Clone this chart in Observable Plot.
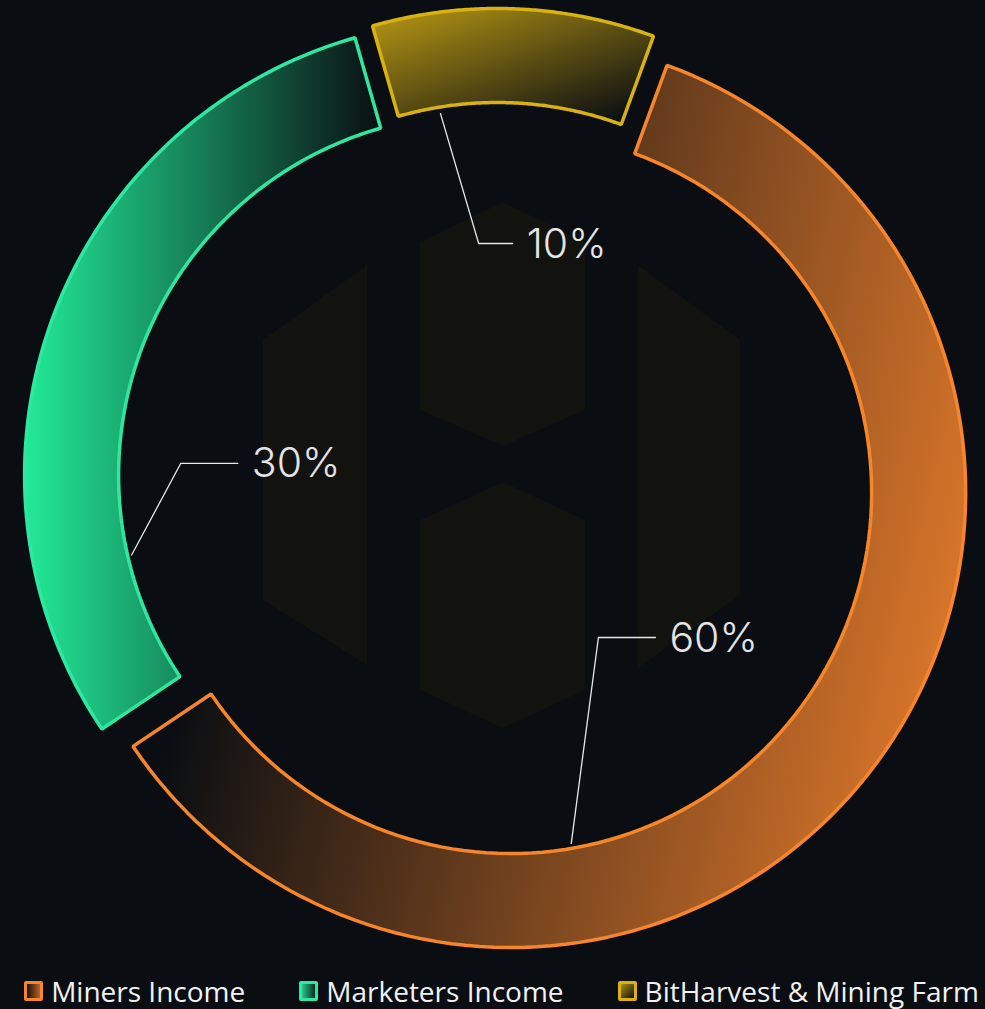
<!DOCTYPE html>
<html>
<head>
<meta charset="utf-8">
<script src="https://cdn.jsdelivr.net/npm/d3@7"></script>
<script src="https://cdn.jsdelivr.net/npm/@observablehq/plot@0.6"></script>
<style>
  html, body { margin: 0; padding: 0; background: #0a0e12; overflow: hidden; }
  #wrap { position: relative; width: 985px; }
  #wm { position: absolute; left: 0; top: 0; width: 985px; height: 970px; }
  #chart { position: relative; }
  #chart svg { display: block; }
  #legend {
    display: flex; justify-content: center; align-items: center; gap: 54px;
    height: 39px; padding-top: 2px; box-sizing: border-box;
    font-family: "Open Sans", sans-serif; font-size: 28px; color: #f2f2f2;
    transform: translateX(9px);
  }
  .item { display: flex; align-items: center; gap: 8px; white-space: nowrap; }
  .sw { width: 13px; height: 14px; border: 3px solid; border-radius: 2px; }
</style>
</head>
<body>
<div id="wrap">
  <svg id="wm" width="985" height="970">
    <g fill="#12120f">
      <polygon points="503,202 585,242 585,410 503,446 420,410 420,242"/>
      <polygon points="503,482 585,520 585,690 503,728 420,690 420,520"/>
      <polygon points="367,265 367,665 263,600 263,340"/>
      <polygon points="638,265 740,340 740,595 638,668"/>
    </g>
  </svg>
  <div id="chart"></div>
</div>
<div id="legend"></div>
<script>
// ---- data ----
const categories = ["Miners Income", "Marketers Income", "BitHarvest & Mining Farm"];
const shares = [60, 30, 10];
const labels = ["60%", "30%", "10%"];
const strokeColors = ["#f7862b", "#2ee8a0", "#d8b210"];
const fillColors = ["#d8752a", "#22ea98", "#c9a514"];

// ---- layout (polar, relative to each slice centre; degrees clockwise from top) ----
const startDeg = 20.1;
const rOuter = 455, rInner = 361, explode = 18;
const leaderStartAngle = [170.2, 257.1, -9.2];
const leaderStartRadius = [356, 357, 354.5];
const leaderElbowAngle = [148.8, 272.3, -4.8];
const leaderElbowRadius = [169.4, 299, 220.8];
const leaderRun = [57, 57, 34];

const W = 985, H = 970, CX = 496, CY = 481;
const rad = Math.PI / 180;

const arcs = d3.pie().sort(null).value(d => d)
  .startAngle(startDeg * rad).endAngle(startDeg * rad + 2 * Math.PI)(shares);

const slices = arcs.map((a, i) => {
  const mid = (a.startAngle + a.endAngle) / 2;
  const ox = explode * Math.sin(mid), oy = explode * Math.cos(mid);
  const pts = [];
  const n = 120;
  for (let k = 0; k <= n; k++) {
    const t = a.startAngle + (a.endAngle - a.startAngle) * k / n;
    pts.push({x: ox + rOuter * Math.sin(t), y: oy + rOuter * Math.cos(t)});
  }
  for (let k = n; k >= 0; k--) {
    const t = a.startAngle + (a.endAngle - a.startAngle) * k / n;
    pts.push({x: ox + rInner * Math.sin(t), y: oy + rInner * Math.cos(t)});
  }
  return {i, ox, oy, pts};
});

const leaders = [];
const labelRows = [];
slices.forEach((s, i) => {
  const sa = leaderStartAngle[i] * rad, ea = leaderElbowAngle[i] * rad;
  const p0 = {x: s.ox + leaderStartRadius[i] * Math.sin(sa), y: s.oy + leaderStartRadius[i] * Math.cos(sa)};
  const p1 = {x: s.ox + leaderElbowRadius[i] * Math.sin(ea), y: s.oy + leaderElbowRadius[i] * Math.cos(ea)};
  const p2 = {x: p1.x + leaderRun[i], y: p1.y};
  [p0, p1, p2].forEach(p => leaders.push({...p, k: categories[i]}));
  labelRows.push({x: p2.x + 14, y: p2.y - 1, text: labels[i]});
});

const plot = Plot.plot({
  width: W, height: H, margin: 0,
  x: {domain: [-CX, W - CX], axis: null},
  y: {domain: [-(H - CY), CY], axis: null},
  style: {background: "transparent", overflow: "visible"},
  marks: [
    ...slices.map(s => Plot.line(s.pts, {
      x: "x", y: "y", curve: "linear-closed",
      fill: `url(#grad${s.i})`, stroke: strokeColors[s.i], strokeWidth: 3.5,
      strokeLinejoin: "miter"
    })),
    Plot.line(leaders, {x: "x", y: "y", z: "k", stroke: "#e8e8e8", strokeWidth: 1.3}),
    Plot.text(labelRows, {
      x: "x", y: "y", text: "text", textAnchor: "start", lineAnchor: "middle",
      fontSize: 41, fontWeight: 300, fontFamily: "Inter, sans-serif", fill: "#e4e4e4"
    })
  ]
});

// gradients
const defs = d3.select(plot).insert("defs", ":first-child");
const gradSpecs = [
  {x1: 0.24, y1: 0, x2: 1.09, y2: 0.22, o0: 0, o1: 1},
  {x1: 0, y1: 0, x2: 1, y2: 0, o0: 1, o1: 0},
  {x1: 0, y1: 0, x2: 0.85, y2: 1, o0: 0.92, o1: 0}
];
gradSpecs.forEach((g, i) => {
  const lg = defs.append("linearGradient").attr("id", `grad${i}`)
    .attr("x1", g.x1).attr("y1", g.y1).attr("x2", g.x2).attr("y2", g.y2);
  lg.append("stop").attr("offset", 0).attr("stop-color", fillColors[i]).attr("stop-opacity", g.o0);
  lg.append("stop").attr("offset", 1).attr("stop-color", fillColors[i]).attr("stop-opacity", g.o1);
});

document.getElementById("chart").appendChild(plot);

// legend
const swatchBg = [
  "linear-gradient(to right, #1a120b, #b8632a)",
  "linear-gradient(to right, #22c98a, #0d2a22)",
  "linear-gradient(135deg, #a88c14, #141208)"
];
const legend = document.getElementById("legend");
categories.forEach((c, i) => {
  const item = document.createElement("div");
  item.className = "item";
  const sw = document.createElement("div");
  sw.className = "sw";
  sw.style.borderColor = strokeColors[i];
  sw.style.background = swatchBg[i];
  const t = document.createElement("span");
  t.textContent = c;
  item.appendChild(sw); item.appendChild(t);
  legend.appendChild(item);
});
</script>
</body>
</html>
